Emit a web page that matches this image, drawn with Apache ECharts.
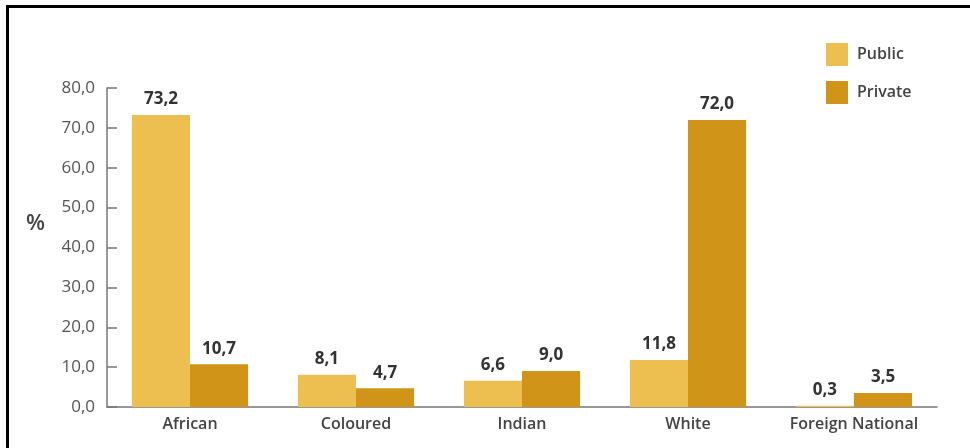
<!DOCTYPE html>
<html>
<head>
<meta charset="utf-8">
<script src="https://cdn.jsdelivr.net/npm/echarts@6/dist/echarts.min.js"></script>
<style>
  html, body { margin: 0; padding: 0; background: #fff; }
  #chart { width: 970px; height: 448px; }
</style>
</head>
<body>
<div id="chart"></div>
<script>
// Population groups on the category axis
const categories = ['African', 'Coloured', 'Indian', 'White', 'Foreign National'];
// Share of each group (%) by sector
const publicValues = [73.2, 8.1, 6.6, 11.8, 0.3];
const privateValues = [10.7, 4.7, 9.0, 72.0, 3.5];
const seriesNames = ['Public', 'Private'];
// Value axis range
const yMin = 0, yMax = 80, yStep = 10;

const FONT = '"Open Sans", sans-serif';
const fmt = v => Number(v).toFixed(1).replace('.', ',');

const chart = echarts.init(document.getElementById('chart'), null, { renderer: 'canvas' });

const valueLabel = {
  show: true, position: 'top', distance: 7,
  formatter: p => fmt(p.value),
  fontFamily: FONT, fontSize: 17, fontWeight: 700, color: '#333'
};

chart.setOption({
  backgroundColor: '#ffffff',
  animation: false,
  textStyle: { fontFamily: FONT },
  grid: { left: 107, right: 33, top: 88, bottom: 41, containLabel: false },
  legend: {
    orient: 'vertical',
    left: 821,
    top: 38,
    itemWidth: 22,
    itemHeight: 23,
    itemGap: 15,
    icon: 'rect',
    textStyle: { fontFamily: FONT, fontSize: 16, color: '#444', fontWeight: 600, padding: [3, 0, 0, 4] },
    data: seriesNames
  },
  xAxis: {
    type: 'category',
    data: categories,
    axisLine: { lineStyle: { color: '#777', width: 1.5 } },
    axisTick: { inside: true, length: 7, lineStyle: { color: '#777', width: 1.5 } },
    axisLabel: { interval: 0, hideOverlap: false, margin: 9, fontFamily: FONT, fontSize: 16, fontWeight: 600, color: '#444' }
  },
  yAxis: {
    type: 'value',
    min: yMin,
    max: yMax,
    interval: yStep,
    splitLine: { show: false },
    axisLine: { show: true, lineStyle: { color: '#777', width: 1.5 } },
    axisTick: { show: true, inside: true, length: 10, lineStyle: { color: '#777', width: 1.5 } },
    axisLabel: { margin: 12, fontFamily: FONT, fontSize: 17, fontWeight: 500, color: '#555', formatter: fmt }
  },
  graphic: [
    // frame lines (top and left)
    { type: 'rect', shape: { x: 6, y: 5, width: 964, height: 3 }, style: { fill: '#000' }, silent: true },
    { type: 'rect', shape: { x: 6, y: 5, width: 3, height: 443 }, style: { fill: '#000' }, silent: true },
    // unit label of the value axis
    { type: 'text', left: 26, top: 213, style: { text: '%', font: '600 22px "Open Sans", sans-serif', fill: '#444' }, silent: true }
  ],
  series: [
    {
      name: seriesNames[0],
      type: 'bar',
      data: publicValues,
      barWidth: '35%',
      barGap: '0%',
      itemStyle: { color: '#EDBE50' },
      label: valueLabel
    },
    {
      name: seriesNames[1],
      type: 'bar',
      data: privateValues,
      barWidth: '35%',
      barGap: '0%',
      itemStyle: { color: '#D09419' },
      label: valueLabel
    }
  ]
});
</script>
</body>
</html>
